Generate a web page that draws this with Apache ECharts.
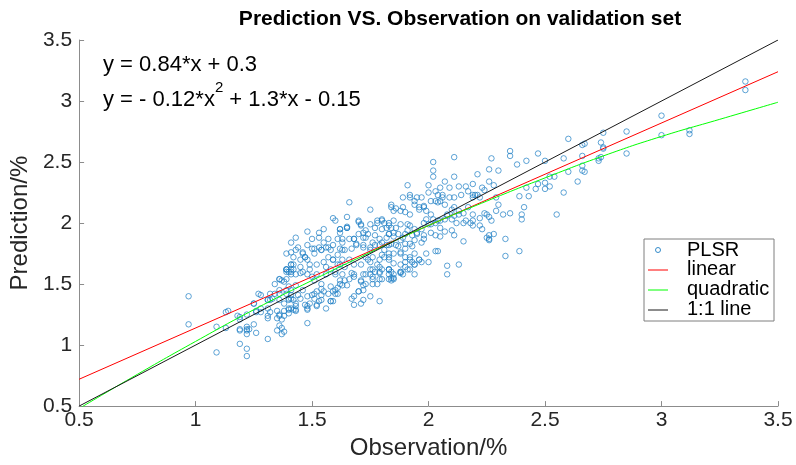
<!DOCTYPE html>
<html><head><meta charset="utf-8">
<script src="https://cdn.jsdelivr.net/npm/echarts@6/dist/echarts.min.js"></script>
<style>html,body{margin:0;padding:0;background:#fff}#c{width:796px;height:465px}</style>
</head><body><div id="c"></div>
<script>
const titleText = 'Prediction VS. Observation on validation set';
const xName = 'Observation/%';
const yName = 'Prediction/%';
const seriesNames = ['PLSR', 'linear', 'quadratic', '1:1 line'];
const xTicks = [0.5, 3.5, 0.5]; // min, max, interval
const yTicks = [0.5, 3.5, 0.5];

const plsrPoints = [
[0.97,1.40],[0.97,1.17],[1.09,0.94],[1.13,1.27],[1.14,1.28],[1.09,1.15],[1.13,1.14],[1.18,1.24],[1.19,1.21],[1.19,1.01],[1.22,0.97],[1.22,0.91],[1.19,1.13],[1.22,1.15],[1.22,1.13],[1.22,1.09],[1.25,1.17],[1.26,1.10],[1.22,1.25],[1.25,1.34],[1.28,1.41],[1.31,1.05],[1.26,1.28],[1.28,1.30],[1.31,1.24],[1.32,1.27],[1.35,1.12],[1.37,1.09],[1.35,1.22],[1.36,1.24],[1.32,1.37],[1.36,1.42],[1.38,1.28],[1.40,1.29],[1.42,1.29],[1.43,1.28],[1.48,1.18],[1.56,1.30],[1.40,1.37],[1.48,1.32],[1.49,1.34],[1.52,1.32],[1.58,1.36],[1.67,1.38],[1.72,1.49],
[1.19,1.23],[1.23,1.13],[1.22,1.12],[1.19,1.12],[1.26,1.27],[1.28,1.27],[1.31,1.37],[1.33,1.38],[1.31,1.30],[1.31,1.22],[1.35,1.28],[1.36,1.25],[1.36,1.16],[1.37,1.14],[1.38,1.11],[1.38,1.24],[1.34,1.42],[1.36,1.54],[1.37,1.53],[1.39,1.62],[1.40,1.60],[1.41,1.62],[1.41,1.66],[1.40,1.48],[1.41,1.45],[1.39,1.45],[1.40,1.38],[1.41,1.41],[1.42,1.37],[1.40,1.30],[1.38,1.34],[1.37,1.21],[1.40,1.26],
[1.41,1.30],[1.43,1.32],[1.43,1.29],[1.47,1.33],[1.48,1.30],[1.48,1.29],[1.52,1.33],[1.53,1.36],[1.44,1.41],[1.45,1.38],[1.50,1.41],[1.51,1.38],[1.54,1.41],[1.55,1.44],[1.52,1.44],[1.57,1.42],[1.59,1.44],[1.60,1.42],[1.58,1.48],[1.60,1.45],[1.61,1.47],[1.62,1.50],[1.64,1.53],[1.65,1.49],[1.68,1.56],[1.71,1.53],[1.73,1.58],[1.76,1.62],[1.79,1.60],[1.80,1.62],[1.83,1.62],[1.85,1.54],[1.39,1.60],[1.41,1.58],[1.59,1.36],[1.70,1.44],[1.76,1.50],[1.76,1.54],[1.85,1.55],[1.88,1.59],[1.80,1.54],
[2.08,1.65],[2.08,1.58],[2.13,1.66],[1.83,1.62],[1.84,1.55],[1.84,1.53],[1.88,1.60],[1.89,1.58],[1.91,1.62],[1.94,1.66],[1.88,1.66],[1.90,1.68],[1.85,1.67],
[2.33,1.73],[2.39,1.77],[2.55,2.07],[2.58,2.25],[1.91,2.31],[2.02,2.50],[2.02,2.43],[2.02,2.38],[2.11,2.54],[2.11,2.38],[2.27,2.53],[2.21,2.40],[2.35,2.55],[2.35,2.59],[2.38,2.48],[2.42,2.51],[2.47,2.57],[2.50,2.51],[2.58,2.53],[2.60,2.69],[2.67,2.65],[2.66,2.64],[2.74,2.66],[2.75,2.74],[2.75,2.61],[2.75,2.62],[2.73,2.53],[2.66,2.43],[2.64,2.34],[2.60,2.42],[2.54,2.38],[2.52,2.38],[2.52,2.30],[2.50,2.28],[2.50,2.33],[2.47,2.32],[2.46,2.28],[2.43,2.22],[2.39,2.22],[2.42,2.29],[2.40,2.07],[2.40,2.03],[2.41,2.13],[2.35,2.08],[2.32,2.07],[2.33,1.87],[2.27,2.02],[2.26,1.90],[2.28,1.91],[2.26,1.86],[2.23,1.95],[2.22,2.04],[2.24,2.08],[2.29,2.10],[2.30,2.15],[2.29,2.21],[2.26,2.34],[2.30,2.43],[2.26,2.44],[2.23,2.29],[2.21,2.23],[2.19,2.21],[2.19,2.23],[2.19,2.32],[2.16,2.30],[2.13,2.30],[2.17,2.13],[2.15,2.08],[2.15,2.00],[2.19,2.02],[2.19,1.98],[2.22,1.98],[2.19,2.07],[2.13,2.07],[2.13,2.10],[2.11,2.06],[2.12,2.00],[2.11,1.90],[2.15,1.85],[2.10,1.94],[2.07,1.93],[2.08,2.06],[2.07,2.03],[2.07,2.15],[2.10,2.11],[2.11,2.13],[2.11,2.21],[2.06,2.21],[2.04,2.23],[2.05,2.29],[2.09,2.29],[2.07,2.34],[2.00,2.31],[2.00,2.25],[2.03,2.26],[1.97,2.21],[1.95,2.21],[1.94,2.15],[1.92,2.21],[1.89,2.21],[1.98,2.13],[1.99,2.10],[1.96,2.11],[1.92,2.07],[1.89,2.13],[1.90,2.09],[2.03,2.18],[2.05,2.18],[2.01,2.07],[2.02,2.03],[2.03,2.00],[2.05,1.96],[2.05,2.02],[2.00,1.99],[1.98,2.00],[1.97,1.95],[1.94,1.95],[1.91,1.99],[1.92,1.98],[1.90,1.91],[1.95,1.91],[1.98,1.90],[2.01,1.92],[2.03,1.90],[2.05,1.89],[1.98,1.87],[1.97,1.84],[1.94,1.86],[1.92,1.83],[2.03,1.77],[2.04,1.77],[1.99,1.75],[1.93,1.81],[1.94,1.75],[1.96,1.70],[1.90,1.72],[1.92,1.70],[1.94,1.66],
[3.36,3.16],[3.36,3.09],[3.00,2.88],[3.00,2.72],[3.12,2.76],[3.12,2.73],[2.85,2.75],[2.85,2.57],[2.74,2.54],[2.73,2.51],[2.66,2.55],[2.66,2.47],[2.67,2.42],
[1.84,2.15],[1.85,2.10],[1.88,2.10],[1.83,2.00],[1.85,2.02],[1.84,1.96],[1.86,1.96],[1.83,1.91],[1.85,1.89],[1.87,1.91],[1.84,1.83],[1.87,1.81],[1.88,1.75],[1.83,1.75],[2.00,1.68],[1.97,1.68],[2.16,2.02],[2.18,2.00],[2.25,2.07],[2.26,2.05],[2.25,1.88],[2.26,1.87],[1.92,2.23],[1.94,2.18],[1.96,2.13],[1.98,2.14],[2.01,2.18],[2.04,2.17],[2.06,2.23],[2.09,2.21],[2.14,2.23],[2.17,2.26],[2.20,2.23],[2.22,2.21],[2.24,2.27],[2.28,2.31],[1.99,2.03],[2.01,1.99],[2.04,2.02],[2.08,2.07],[2.10,2.03],[1.91,1.94],[1.93,1.90],[1.95,1.92],[1.88,1.86],[1.90,1.83],
[1.66,2.17],[1.75,2.11],[1.84,2.13],[1.86,2.12],[1.59,2.04],[1.60,2.02],[1.65,2.05],[1.48,1.93],[1.50,1.87],[1.53,1.92],[1.55,1.95],[1.44,1.80],[1.62,1.95],[1.62,1.92],[1.65,1.97],[1.68,1.87],[1.70,2.02],[1.71,1.99],[1.72,1.92],[1.73,1.88],[1.75,1.99],[1.77,1.96],[1.78,2.02],[1.80,2.03],[1.81,2.00],[1.82,1.96],[1.83,1.91],[1.85,1.92],[1.88,1.99],[1.89,1.88],
[1.39,1.62],[1.41,1.60],[1.42,1.66],[1.36,1.54],[1.38,1.52],[1.46,1.75],[1.47,1.72],[1.48,1.70],[1.45,1.64],[1.46,1.60],[1.49,1.62],[1.50,1.56],[1.51,1.53],[1.54,1.50],[1.54,1.46],[1.43,1.49],[1.46,1.45],[1.48,1.40],[1.51,1.42],[1.54,1.37],[1.43,1.34],[1.57,1.72],[1.59,1.70],[1.61,1.74],[1.56,1.64],[1.58,1.62],[1.60,1.58],[1.62,1.66],[1.64,1.64],[1.63,1.78],[1.57,1.80],[1.59,1.82],[1.53,1.80],[1.54,1.78],[1.51,1.75],[1.62,1.53],[1.63,1.49],[1.61,1.42],[1.66,1.54],[1.68,1.58],[1.71,1.52],[1.68,1.40],[1.70,1.44],[1.74,1.70],[1.76,1.72],[1.78,1.66],[1.75,1.62],[1.77,1.60],[1.79,1.64],[1.81,1.72],[1.83,1.70],[1.85,1.75],[1.83,1.62],[1.85,1.58],[1.88,1.60],[1.72,1.45],[1.73,1.50],[1.78,1.50],[1.76,1.56],[1.79,1.54],[1.63,1.84],[1.66,1.87],[1.69,1.83],[1.72,1.80],[1.75,1.78],[1.77,1.82],[1.80,1.84],[1.83,1.82],[1.81,1.78],[1.86,1.82],[1.88,1.76],[1.90,1.79],[1.92,1.72],[1.93,1.68],[1.96,1.70],[1.90,1.64],[1.92,1.62],[1.94,1.58],[1.39,1.42],[1.41,1.38],[1.36,1.45],[1.34,1.50],[1.39,1.54],[1.32,1.42],[1.31,1.37],[1.27,1.42],[1.25,1.34],[1.36,1.37],[1.43,1.78],[1.42,1.72],[1.50,1.79],[1.48,1.82],[1.53,1.88],[1.57,1.87],[1.55,1.84],[1.71,1.34],[1.72,1.37],[1.68,1.33],[1.75,1.40],[1.79,1.36],[1.58,1.36],[1.84,1.60],[1.83,1.54],
[1.62,1.95],[1.65,1.96],[1.65,1.96],[1.61,1.87],[1.63,1.87],[1.68,1.87],[1.70,2.01],[1.71,1.98],[1.70,1.91],[1.73,1.94],[1.74,1.91],[1.72,1.88],[1.78,2.00],[1.80,2.02],[1.80,1.95],[1.83,1.98],[1.77,1.90],[1.79,1.87],[1.82,1.88],[1.46,1.76],[1.47,1.72],[1.45,1.70],[1.51,1.79],[1.54,1.78],[1.56,1.80],[1.58,1.78],[1.62,1.79],[1.64,1.78],[1.67,1.79],[1.69,1.82],[1.72,1.82],[1.75,1.80],[1.76,1.84],[1.79,1.82],[1.82,1.82],[1.41,1.66],[1.39,1.62],[1.42,1.62],[1.49,1.66],[1.52,1.66],[1.55,1.68],[1.59,1.70],[1.61,1.66],[1.63,1.70],[1.66,1.70],[1.68,1.66],[1.71,1.66],[1.73,1.72],[1.75,1.68],[1.79,1.70],[1.80,1.74],[1.83,1.72],[1.43,1.58],[1.45,1.59],[1.48,1.58],[1.52,1.58],[1.56,1.58],[1.60,1.60],[1.63,1.58],[1.67,1.59],[1.72,1.58],[1.75,1.58],[1.79,1.59],[1.83,1.58],[1.41,1.84],[1.43,1.88],[1.39,1.75],[1.41,1.76]
];
const linearPoints = [[0.5, 0.72], [3.5, 3.24]];
const quadraticPoints = [[0.5,0.48],[0.75,0.76],[1.0,1.03],[1.25,1.29],[1.5,1.53],[1.75,1.76],[2.0,1.98],[2.25,2.18],[2.5,2.37],[2.75,2.55],[3.0,2.71],[3.25,2.85],[3.5,2.99]];
const identityPoints = [[0.5, 0.5], [3.5, 3.5]];
const eqLinear = 'y = 0.84*x + 0.3';
const eqQuadParts = ['y = - 0.12*x', '2', ' + 1.3*x - 0.15'];

const FONT = '"Liberation Sans", Arial, Helvetica, sans-serif';
const blue = '#0072BD';
const chart = echarts.init(document.getElementById('c'), null, {renderer: 'canvas'});
const axisCommon = {
  type: 'value',
  nameLocation: 'middle',
  axisLine: {show: true, lineStyle: {color: '#8c8c8c', width: 1}},
  axisTick: {show: true, inside: true, length: 5, lineStyle: {color: '#8c8c8c'}},
  splitLine: {show: false},
  axisLabel: {color: '#262626', fontFamily: FONT, fontSize: 21, formatter: v => String(+v.toFixed(2))},
  nameTextStyle: {color: '#262626', fontFamily: FONT, fontSize: 24}
};
const lx = 644, ly = 239;
chart.setOption({
  animation: false,
  backgroundColor: '#fff',
  title: {text: titleText, left: 455, top: 4, textAlign: 'center',
    textStyle: {fontFamily: FONT, fontSize: 21, fontWeight: 'bold', color: '#000'}},
  grid: {left: 74, right: 18, top: 40, bottom: 54, containLabel: false},
  xAxis: Object.assign({}, axisCommon, {min: xTicks[0], max: xTicks[1], interval: xTicks[2], name: xName, nameGap: 25,
    axisLabel: Object.assign({}, axisCommon.axisLabel, {margin: 4})}),
  yAxis: Object.assign({}, axisCommon, {min: yTicks[0], max: yTicks[1], interval: yTicks[2], name: yName, nameGap: 44,
    axisLabel: Object.assign({}, axisCommon.axisLabel, {margin: 7})}),
  series: [
    {name: seriesNames[0], type: 'scatter', data: plsrPoints, symbol: 'circle', symbolSize: 5.5,
      itemStyle: {color: 'rgba(255,255,255,0)', borderColor: '#1f7fc4', borderWidth: 0.9}, z: 2},
    {name: seriesNames[1], type: 'line', data: linearPoints, symbol: 'none', lineStyle: {color: '#ff0000', width: 1}, z: 3, clip: true},
    {name: seriesNames[2], type: 'line', data: quadraticPoints, symbol: 'none', smooth: true, lineStyle: {color: '#00ff00', width: 1}, z: 3, clip: true},
    {name: seriesNames[3], type: 'line', data: identityPoints, symbol: 'none', lineStyle: {color: '#1a1a1a', width: 1}, z: 4, clip: true}
  ],
  graphic: [
    {type: 'text', left: 103, top: 54, z: 10, style: {text: eqLinear, font: '22px ' + FONT, fill: '#000'}},
    {type: 'text', left: 103, top: 80, z: 10, style: {
      text: '{n|' + eqQuadParts[0] + '}{s|' + eqQuadParts[1] + '}{n|' + eqQuadParts[2] + '}',
      rich: {n: {fontFamily: FONT, fontSize: 22, fill: '#000', color: '#000', height: 26, verticalAlign: 'bottom'},
             s: {fontFamily: FONT, fontSize: 15, color: '#000', fill: '#000', verticalAlign: 'top', height: 26, padding: [0,0,12,0]}}}},
    {type: 'group', z: 20, children: [
      {type: 'rect', shape: {x: lx, y: ly, width: 130, height: 82}, style: {fill: '#fff', stroke: '#7f7f7f', lineWidth: 1}},
      {type: 'circle', shape: {cx: lx + 14, cy: ly + 11, r: 2.5}, style: {fill: 'none', stroke: '#1f7fc4', lineWidth: 0.9}},
      {type: 'line', shape: {x1: lx + 4, y1: ly + 31, x2: lx + 24, y2: ly + 31}, style: {stroke: '#ff0000', lineWidth: 1}},
      {type: 'line', shape: {x1: lx + 4, y1: ly + 51, x2: lx + 24, y2: ly + 51}, style: {stroke: '#00ff00', lineWidth: 1}},
      {type: 'line', shape: {x1: lx + 4, y1: ly + 71, x2: lx + 24, y2: ly + 71}, style: {stroke: '#1a1a1a', lineWidth: 1}},
      {type: 'text', x: lx + 43, y: ly + 11, style: {text: seriesNames[0], font: '20px ' + FONT, fill: '#000', verticalAlign: 'middle'}},
      {type: 'text', x: lx + 43, y: ly + 30, style: {text: seriesNames[1], font: '20px ' + FONT, fill: '#000', verticalAlign: 'middle'}},
      {type: 'text', x: lx + 43, y: ly + 50, style: {text: seriesNames[2], font: '20px ' + FONT, fill: '#000', verticalAlign: 'middle'}},
      {type: 'text', x: lx + 43, y: ly + 70, style: {text: seriesNames[3], font: '20px ' + FONT, fill: '#000', verticalAlign: 'middle'}}
    ]}
  ]
});
</script></body></html>
